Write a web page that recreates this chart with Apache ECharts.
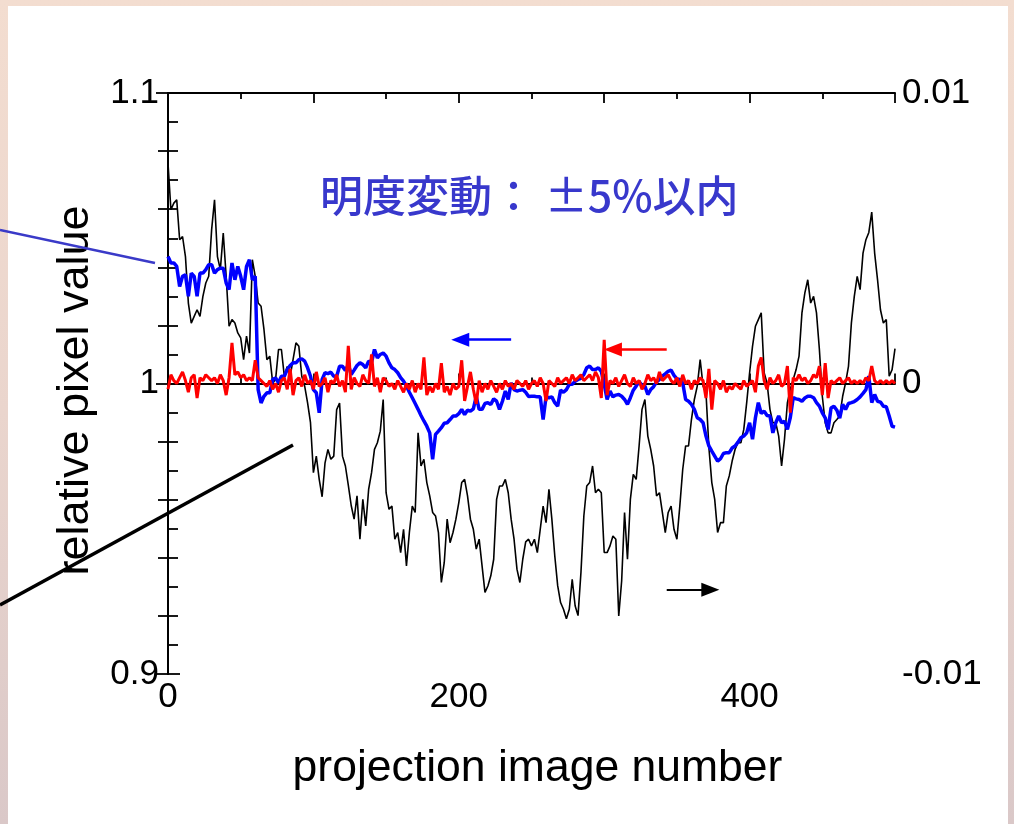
<!DOCTYPE html>
<html><head><meta charset="utf-8">
<script src="https://cdn.jsdelivr.net/npm/echarts@6/dist/echarts.min.js"></script>
<style>
html,body{margin:0;padding:0;width:1014px;height:824px;overflow:hidden;}
body{background:linear-gradient(180deg,#f3ddd0 0%,#ead5cd 50%,#dac8c8 100%);}
#panel{position:absolute;left:8px;top:6px;width:1000px;height:818px;background:#fff;}
#chart{position:absolute;left:0;top:0;width:1014px;height:824px;}
</style></head>
<body><div id="panel"></div><div id="chart"></div>
<script>
// projection image numbers (every 2nd image)
const xs = Array.from({length: 251}, (_, i) => i * 2);

// black: right axis (change)
const black = [
0.00758,0.00598,0.00621,0.00632,0.00495,0.00506,0.00437,0.00277,0.00208,0.00231,
0.00254,0.00231,0.003,0.00346,0.00369,0.00529,0.00632,0.00437,0.00392,0.00518,
0.00369,0.00197,0.0022,0.00208,0.00174,0.00157,0.00082,0.00163,0.00105,0.00426,
0.00369,0.00277,0.00266,0.00186,0.00082,0.00094,0.00002,0.00014,0.00117,0.00117,
0.00025,0.00059,0.00025,0.00082,0.0014,0.00128,0.00025,-0.00009,-0.00067,-0.00135,
-0.00307,-0.0025,-0.0033,-0.0039,-0.00273,-0.00227,-0.00261,-0.0025,-0.0009,-0.00067,
-0.0025,-0.00284,-0.0035,-0.0042,-0.00467,-0.00387,-0.00536,-0.00399,-0.0049,-0.00364,
-0.00307,-0.00227,-0.00204,-0.00164,-0.00055,-0.00376,-0.00433,-0.00422,-0.00536,-0.00513,
-0.00582,-0.00502,-0.00628,-0.00513,-0.00422,-0.00444,-0.0017,-0.00284,-0.00261,-0.00341,
-0.00387,-0.00444,-0.00456,-0.00513,-0.00685,-0.00616,-0.00467,-0.00548,-0.00513,-0.00467,
-0.0041,-0.00341,-0.0033,-0.00387,-0.00467,-0.00502,-0.0057,-0.00536,-0.00628,-0.00719,
-0.00697,-0.00662,-0.00605,-0.00399,-0.00353,-0.00353,-0.0033,-0.00376,-0.00467,-0.00536,
-0.00639,-0.00685,-0.00605,-0.00545,-0.00536,-0.00559,-0.00536,-0.00582,-0.00502,-0.00422,
-0.00479,-0.00364,-0.00467,-0.00593,-0.00696,-0.00754,-0.00777,-0.0081,-0.00777,-0.00674,
-0.00765,-0.00799,-0.00651,-0.00456,-0.00353,-0.00341,-0.00284,-0.00376,-0.00364,-0.00376,
-0.00582,-0.00582,-0.00559,-0.00525,-0.00536,-0.008,-0.0068,-0.00444,-0.00605,-0.00399,
-0.00313,-0.0033,-0.00215,-0.00089,-0.00055,-0.00181,-0.00227,-0.00284,-0.00387,-0.00376,
-0.00444,-0.00513,-0.00444,-0.00422,-0.00502,-0.00536,-0.00422,-0.00296,-0.00215,-0.00215,
-0.00124,-0.00055,-0.00009,0.00082,-0.00009,-0.00032,-0.0022,-0.00341,-0.00399,-0.00513,
-0.00479,-0.00479,-0.00353,-0.00318,-0.00267,-0.00227,-0.00204,-0.00204,-0.00158,-0.00066,
0.00037,0.00128,0.00197,0.0022,0.00243,0.00037,0.00002,-0.00089,-0.00135,-0.00135,
-0.00181,-0.00284,-0.00192,-0.00066,-0.0002,0.00014,0.00048,0.00094,0.00243,0.00312,
0.00357,0.00277,0.003,0.00243,0.00117,-0.00044,-0.00135,-0.0017,-0.0017,-0.00135,
-0.00124,-0.00112,-0.00044,0.00002,0.00059,0.00208,0.003,0.00369,0.00323,0.00449,
0.00495,0.0052,0.0059,0.00449,0.00357,0.00254,0.00208,0.0022,0.00025,0.00048,
0.0012
];

// blue: left axis (relative pixel value)
const blue = [
1.0437,1.0415,1.0415,1.0403,1.0334,1.0369,1.0374,1.0300,1.0380,1.0369,
1.0300,1.0380,1.0380,1.0392,1.0409,1.0409,1.0380,1.0392,1.0397,1.0397,
1.0346,1.0323,1.0415,1.0357,1.0403,1.0369,1.0323,1.0403,1.0426,1.0357,
1.0369,0.9979,0.9933,0.9956,0.9968,0.9968,1.0014,1.0019,1.0002,1.0025,
1.0025,1.0048,1.0062,1.0071,1.0071,1.0082,1.0085,1.0077,1.0054,1.0025,
0.9979,0.9968,0.9899,1.0014,1.0037,1.0034,1.0039,1.0025,1.0025,1.0059,
1.0059,1.0045,1.0065,1.0031,1.0046,1.0062,1.0071,1.0065,1.0054,1.0077,
1.0073,1.0117,1.0088,1.0100,1.0105,1.0094,1.0071,1.0054,1.0048,1.0037,
1.0020,1.0008,0.9991,0.9970,0.9951,0.9931,0.9911,0.9890,0.9871,0.9853,
0.9830,0.9739,0.9825,0.9836,0.9848,0.9863,0.9865,0.9876,0.9888,0.9888,
0.9896,0.9911,0.9893,0.9908,0.9905,0.9913,0.9956,0.9911,0.9911,0.9931,
0.9934,0.9928,0.9947,0.9939,0.9911,0.9939,0.9974,0.9945,1.0002,0.9979,
0.9974,0.9977,0.9979,0.9970,0.9955,0.9956,0.9956,0.9954,0.9954,0.9876,
0.9954,0.9951,0.9954,0.9934,0.9922,0.9977,0.9970,0.9979,0.9997,0.9997,
1.0008,1.0014,1.0018,1.0031,1.0054,1.0060,1.0048,1.0048,1.0054,1.0042,
0.9997,0.9945,0.9974,0.9954,0.9960,0.9962,0.9956,0.9945,0.9928,0.9951,
0.9977,0.9991,1.0007,0.9993,0.9991,0.9962,0.9979,0.9989,1.0005,1.0014,
1.0025,1.0033,1.0042,1.0046,1.0028,1.0016,1.0014,1.0002,0.9945,0.9939,
0.9928,0.9911,0.9882,0.9876,0.9865,0.9819,0.9785,0.9767,0.9750,0.9733,
0.9741,0.9759,0.9762,0.9762,0.9778,0.9785,0.9798,0.9813,0.9819,0.9830,
0.9865,0.9808,0.9882,0.9934,0.9897,0.9905,0.9890,0.9888,0.9830,0.9865,
0.9888,0.9865,0.9870,0.9842,0.9883,0.9951,0.9947,0.9945,0.9939,0.9950,
0.9956,0.9956,0.9951,0.9934,0.9922,0.9899,0.9882,0.9842,0.9916,0.9922,
0.9908,0.9881,0.9928,0.9911,0.9931,0.9934,0.9938,0.9945,0.9954,0.9966,
0.9979,1.0025,0.9934,0.9962,0.9939,0.9936,0.9922,0.9920,0.9888,0.9853,
0.9850
];

// red: left axis (relative pixel value)
const red = [
0.998,1.003,1.001,1.000,1.002,1.004,1.001,0.997,1.002,1.003,
0.995,1.002,1.001,1.003,1.002,1.001,1.002,1.000,1.003,1.001,
0.996,1.002,1.014,1.003,1.004,1.002,1.003,1.001,1.002,1.001,
1.008,1.002,1.001,1.000,0.999,1.001,0.998,1.000,0.997,1.001,
1.002,0.998,1.005,0.996,1.001,1.002,0.999,1.003,1.000,1.001,
0.998,1.004,0.999,1.000,1.002,0.997,1.001,1.000,1.003,0.999,
1.001,0.997,1.013,0.998,1.002,1.000,0.999,1.003,1.001,1.000,
1.010,0.999,1.002,0.997,1.002,1.001,0.999,1.000,0.998,1.001,
0.999,0.997,1.000,0.998,1.001,0.997,1.000,0.998,1.009,0.996,
0.999,0.997,1.000,0.998,1.007,0.997,0.999,0.996,1.000,0.998,
0.999,1.008,0.994,0.999,1.004,0.998,0.993,1.001,0.997,1.000,
0.998,1.001,0.999,0.997,1.000,0.998,1.001,0.999,1.000,0.998,
1.001,1.000,0.999,1.001,0.998,1.000,1.001,0.999,1.002,1.000,
0.994,1.001,1.000,0.999,1.002,1.000,1.001,1.002,1.000,1.003,
1.001,1.002,1.003,1.001,1.002,1.003,1.001,1.004,1.002,0.995,
1.015,0.996,1.001,1.000,1.002,0.999,1.001,1.003,1.000,0.999,
1.002,1.000,1.001,0.998,1.000,1.003,1.001,1.002,1.000,1.004,
1.001,1.002,1.003,1.001,1.000,1.002,0.999,1.003,1.000,1.001,
0.998,1.001,1.000,1.002,1.001,0.995,1.005,0.991,1.001,1.000,
0.998,1.001,0.997,0.999,0.998,1.000,0.999,0.998,1.001,0.999,
1.000,1.001,0.997,1.006,1.009,1.001,0.998,1.002,1.000,1.001,
1.003,0.999,1.000,1.006,0.990,1.002,1.001,1.003,1.001,1.002,
1.000,1.001,1.003,1.002,1.006,0.996,1.007,0.995,1.001,1.000,
1.001,1.002,1.000,1.001,1.002,1.000,1.001,1.000,1.001,1.000,
1.002,1.001,1.006,1.001,1.000,1.001,1.000,1.001,1.000,1.001,
1.000
];

const xTickLabels = [0, 200, 400];
const leftTickLabels = ['0.9', '1', '1.1'];
const rightTickLabels = ['-0.01', '0', '0.01'];
const noteText = '明度変動： ±5%以内';

const FONT = '"Liberation Sans", Arial, sans-serif';
const pair = arr => xs.map((x, i) => [x, arr[i]]);
const fmt = v => String(+(+v).toFixed(4));

const axisLineStyle = {show: true, lineStyle: {color: '#000', width: 2}};
function xAx(pos, showLabel) {
  return {
    type: 'value', position: pos, min: 0, max: 500, interval: 100,
    axisLine: axisLineStyle,
    axisTick: {show: true, inside: true, length: 10, lineStyle: {color: '#000', width: 1.8}},
    minorTick: {show: true, splitNumber: 2, length: 6, lineStyle: {color: '#000', width: 1.8}},
    splitLine: {show: false}, minorSplitLine: {show: false},
    axisLabel: {show: showLabel, margin: 6, fontSize: 35, color: '#000', fontFamily: FONT,
      formatter: v => xTickLabels.includes(v) ? String(v) : ''},
    name: showLabel ? 'projection image number' : '',
    nameLocation: 'middle', nameGap: 72,
    nameTextStyle: {fontSize: 44.5, color: '#000', fontFamily: FONT, padding: [0, 0, 0, 12]}
  };
}

const chart = echarts.init(document.getElementById('chart'), null, {renderer: 'canvas'});
chart.setOption({
  animation: false,
  backgroundColor: 'transparent',
  grid: {left: 168, right: 119, top: 93, bottom: 150, containLabel: false},
  xAxis: [xAx('bottom', true), xAx('top', false)],
  yAxis: [
    {
      type: 'value', position: 'left', min: 0.9, max: 1.1, interval: 0.1,
      axisLine: axisLineStyle,
      axisTick: {show: true, inside: true, length: 12, lineStyle: {color: '#000', width: 1.8}},
      minorTick: {show: true, splitNumber: 10, length: 10, lineStyle: {color: '#000', width: 1.8}},
      splitLine: {show: false},
      axisLabel: {margin: 9, fontSize: 35, color: '#000', fontFamily: FONT,
        formatter: v => leftTickLabels.includes(fmt(v)) ? fmt(v) : ''},
      name: 'relative pixel value', nameLocation: 'middle', nameGap: 70, nameRotate: 90,
      nameTextStyle: {fontSize: 45, color: '#000', fontFamily: FONT, padding: [0, 14, 0, 0]}
    },
    {
      type: 'value', position: 'right', min: -0.01, max: 0.01, interval: 0.01,
      axisLine: axisLineStyle,
      axisTick: {show: true, inside: true, length: 12, lineStyle: {color: '#000', width: 1.8}},
      minorTick: {show: true, splitNumber: 5, length: 10, lineStyle: {color: '#000', width: 1.8}},
      splitLine: {show: false},
      axisLabel: {margin: 7, fontSize: 35, color: '#000', fontFamily: FONT,
        formatter: v => rightTickLabels.includes(fmt(v)) ? fmt(v) : ''}
    }
  ],
  series: [
    {
      name: 'change', type: 'line', xAxisIndex: 0, yAxisIndex: 1, data: pair(black),
      showSymbol: false, symbol: 'none', lineStyle: {color: '#000', width: 1.6}, z: 2,
      markLine: {silent: true, symbol: ['none', 'triangle'], symbolSize: [14, 18],
        label: {show: false}, lineStyle: {color: '#000', width: 2, type: 'solid'},
        data: [[{coord: [343, -0.0071]}, {coord: [373, -0.0071]}]]}
    },
    {
      name: 'blue', type: 'line', xAxisIndex: 0, yAxisIndex: 0, data: pair(blue),
      showSymbol: false, symbol: 'none', lineStyle: {color: '#0000ff', width: 3.5}, z: 3,
      markLine: {silent: true, symbol: ['none', 'triangle'], symbolSize: [14, 18],
        label: {show: false}, lineStyle: {color: '#0000ff', width: 2.5, type: 'solid'},
        data: [[{coord: [236, 1.0151]}, {coord: [201, 1.0151]}]]}
    },
    {
      name: 'red', type: 'line', xAxisIndex: 0, yAxisIndex: 0, data: pair(red),
      showSymbol: false, symbol: 'none', lineStyle: {color: '#ff0000', width: 3}, z: 4,
      markLine: {silent: true, symbol: ['none', 'triangle'], symbolSize: [14, 18],
        label: {show: false}, lineStyle: {color: '#ff0000', width: 2.5, type: 'solid'},
        data: [[{coord: [343, 1.0117]}, {coord: [306, 1.0117]}]]}
    }
  ],
  graphic: [
    {type: 'text', left: 320, top: 174, z: 10,
      style: {text: noteText, fontSize: 43, fontWeight: 500, fill: '#3838cc', fontFamily: '"Noto Sans CJK JP", sans-serif'}},
    {type: 'line', z: 10, shape: {x1: 0, y1: 230, x2: 155, y2: 263},
      style: {stroke: '#3a3ac8', lineWidth: 2.5}},
    {type: 'line', z: 10, shape: {x1: 0, y1: 605, x2: 293, y2: 445},
      style: {stroke: '#000', lineWidth: 3.5}}
  ]
});
</script></body></html>
